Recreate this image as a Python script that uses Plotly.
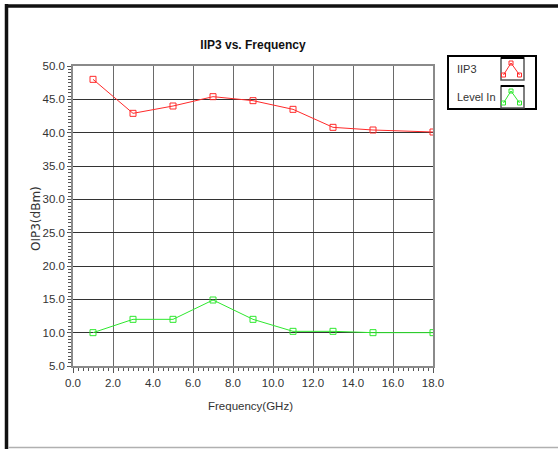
import plotly.graph_objects as go

# ---- data ----
freq_ghz = [1, 3, 5, 7, 9, 11, 13, 15, 18]
iip3_dbm = [48.0, 42.9, 44.0, 45.4, 44.8, 43.5, 40.8, 40.4, 40.1]
level_in_dbm = [10.0, 12.0, 12.0, 14.9, 12.0, 10.2, 10.2, 10.0, 10.0]
series_names = ["IIP3", "Level In"]
x_tick_vals = [0, 2, 4, 6, 8, 10, 12, 14, 16, 18]
y_tick_vals = [5, 10, 15, 20, 25, 30, 35, 40, 45, 50]

RED = "#ff2a2a"
GREEN = "#2ee82e"
SANS = "Liberation Sans, Arial, sans-serif"

W, H = 558, 449
L, R, T, B = 73, 433, 66, 366


def px(xp):
    return (xp - L) / (R - L)


def py(yp):
    return (B - yp) / (B - T)


fig = go.Figure()
fig.add_trace(go.Scatter(
    x=freq_ghz, y=iip3_dbm, name=series_names[0], mode="lines+markers",
    line=dict(color=RED, width=1),
    marker=dict(symbol="square-open", size=6, color=RED, line=dict(width=1, color=RED)),
))
fig.add_trace(go.Scatter(
    x=freq_ghz, y=level_in_dbm, name=series_names[1], mode="lines+markers",
    line=dict(color=GREEN, width=1),
    marker=dict(symbol="square-open", size=6, color=GREEN, line=dict(width=1, color=GREEN)),
))

shapes = []
# outer frame
shapes.append(dict(type="line", xref="paper", yref="paper", x0=px(6.5), x1=px(6.5), y0=py(4), y1=py(449),
                   line=dict(color="#111111", width=3.5)))
shapes.append(dict(type="line", xref="paper", yref="paper", x0=px(5), x1=px(558), y0=py(6), y1=py(6),
                   line=dict(color="#111111", width=3.5)))
shapes.append(dict(type="line", xref="paper", yref="paper", x0=px(8), x1=px(558), y0=py(447.5), y1=py(447.5),
                   line=dict(color="#b0b0b0", width=1.5)))
# custom legend box
shapes.append(dict(type="rect", xref="paper", yref="paper", x0=px(448), x1=px(536), y0=py(56), y1=py(109),
                   line=dict(color="#000000", width=2), fillcolor="white"))
annotations = []
for i, (name, col) in enumerate(zip(series_names, [RED, GREEN])):
    top = 58 + i * 28
    bot = top + 22
    shapes.append(dict(type="rect", xref="paper", yref="paper", x0=px(501), x1=px(524), y0=py(top), y1=py(bot),
                       line=dict(color="#555555", width=1.5), fillcolor="white"))
    shapes.append(dict(type="line", xref="paper", yref="paper", x0=px(501), x1=px(524), y0=py(top), y1=py(top),
                       line=dict(color="#000000", width=2)))
    pts = [(503.5, bot - 5), (511, top + 5), (516, bot - 10), (519.5, bot - 5)]
    path = "M " + " L ".join(f"{px(a)},{py(b)}" for a, b in pts)
    shapes.append(dict(type="path", xref="paper", yref="paper", path=path, line=dict(color=col, width=1)))
    for a, b in [pts[0], pts[1], pts[3]]:
        shapes.append(dict(type="rect", xref="paper", yref="paper", x0=px(a - 2), x1=px(a + 2),
                           y0=py(b - 2), y1=py(b + 2), line=dict(color=col, width=1)))
    annotations.append(dict(text=name, xref="paper", yref="paper", x=px(455), y=py(top + 11),
                            xanchor="left", yanchor="middle", showarrow=False,
                            font=dict(family=SANS, size=11, color="#333333")))

# axis titles placed as annotations for exact positioning
annotations.append(dict(text="OIP3(dBm)", xref="paper", yref="paper", x=px(36), y=py(219),
                        xanchor="center", yanchor="middle", textangle=-90, showarrow=False,
                        font=dict(family="DejaVu Sans, sans-serif", size=12, color="#333333")))
annotations.append(dict(text="Frequency(GHz)", xref="paper", yref="paper", x=px(250.5), y=py(406),
                        xanchor="center", yanchor="middle", showarrow=False,
                        font=dict(family=SANS, size=11.5, color="#333333")))

fig.update_layout(
    width=W, height=H,
    margin=dict(l=L, r=W - R, t=T, b=H - B),
    paper_bgcolor="white", plot_bgcolor="white",
    showlegend=False,
    font=dict(family=SANS, size=12, color="#333333"),
    title=dict(text="<b>IIP3 vs. Frequency</b>", x=px(253), xref="paper", xanchor="center",
               y=1 - 45 / H, yanchor="middle", font=dict(family=SANS, size=12, color="#111111")),
    shapes=shapes,
    annotations=annotations,
)
fig.update_xaxes(
    range=[0, 18], tickvals=x_tick_vals, tickformat=".1f",
    showgrid=True, gridcolor="#6a6a6a", gridwidth=1,
    showline=True, linecolor="#8a8a8a", linewidth=1.5, mirror=True,
    ticks="outside", ticklen=5, tickcolor="#555555",
    minor=dict(dtick=0.25, ticks="outside", ticklen=3, tickcolor="#555555", showgrid=False),
    zeroline=False,
    tickfont=dict(family=SANS, size=11.5, color="#333333"),
)
fig.update_yaxes(
    range=[5, 50], tickvals=y_tick_vals, tickformat=".1f",
    showgrid=True, gridcolor="#333333", gridwidth=1,
    showline=True, linecolor="#8a8a8a", linewidth=1.5, mirror=True,
    ticks="outside", ticklen=4, tickcolor="#555555",
    minor=dict(dtick=0.5, ticks="outside", ticklen=3, tickcolor="#555555", showgrid=False),
    zeroline=False,
    tickfont=dict(family=SANS, size=11.5, color="#333333"),
)

fig.write_html("out.html")
